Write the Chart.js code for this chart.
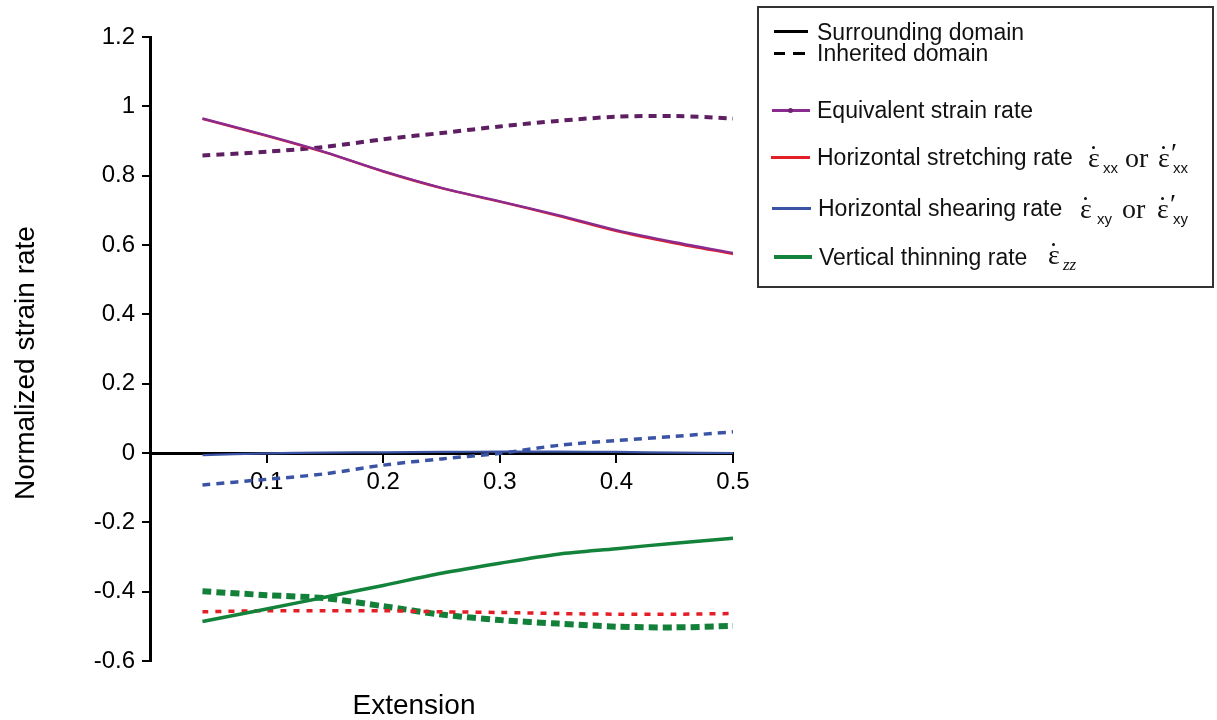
<!DOCTYPE html>
<html>
<head>
<meta charset="utf-8">
<script src="https://cdn.jsdelivr.net/npm/chart.js@4.4.1/dist/chart.umd.min.js"></script>
<style>
  body { margin: 0; background: #fff; }
  #wrap { position: relative; width: 1217px; height: 720px; font-family: "Liberation Sans", Arial, sans-serif; color: #111; }
  #chart { position: absolute; left: 0; top: 0; }
  .box { position: absolute; left: 757px; top: 6px; width: 453px; height: 278px; border: 2px solid #333; }
  .t { position: absolute; font-size: 23px; line-height: 26px; white-space: nowrap; }
  .sw { position: absolute; }
  .e { position: absolute; font-family: "Liberation Serif", "DejaVu Serif", serif; font-size: 28px; line-height: 30px; white-space: nowrap; }
  .d { position: absolute; width: 3px; height: 3px; border-radius: 50%; background: #111; }
  .s { position: absolute; font-size: 15px; line-height: 16px; white-space: nowrap; }
  .zz { font-family: "Liberation Serif", serif; font-style: italic; font-size: 17px; }
  .axt { position: absolute; font-size: 28px; line-height: 32px; color: #000; white-space: nowrap; text-align: center; }
</style>
</head>
<body>
<div id="wrap">
  <canvas id="chart" width="1217" height="720"></canvas>

  <div class="axt" style="left:214px;top:689px;width:400px">Extension</div>
  <div class="axt" style="left:-175px;top:347px;width:400px;transform:rotate(-90deg)">Normalized strain rate</div>

  <div class="box"></div>
  <!-- line style key -->
  <div class="sw" style="left:774px;top:30px;width:34px;height:3px;background:#000"></div>
  <div class="t" style="left:817px;top:19px">Surrounding domain</div>
  <div class="sw" style="left:774px;top:52px;width:11px;height:3px;background:#000"></div>
  <div class="sw" style="left:793px;top:52px;width:12px;height:3px;background:#000"></div>
  <div class="t" style="left:817px;top:40px">Inherited domain</div>
  <!-- colour key -->
  <div class="sw" style="left:772px;top:109px;width:38px;height:3px;background:#8a2b90"></div>
  <div class="sw" style="left:788px;top:108px;width:5px;height:5px;border-radius:50%;background:#6e2373"></div>
  <div class="t" style="left:817px;top:97px">Equivalent strain rate</div>

  <div class="sw" style="left:771px;top:156px;width:39px;height:3px;background:#e31e26"></div>
  <div class="t" style="left:817px;top:144px">Horizontal stretching rate</div>
  <div class="e" style="left:1088px;top:143px">ε</div>
  <div class="d" style="left:1092px;top:146px"></div>
  <div class="s" style="left:1103px;top:160px">xx</div>
  <div class="e" style="left:1125px;top:143px">or</div>
  <div class="e" style="left:1158px;top:143px">ε</div>
  <div class="d" style="left:1162px;top:146px"></div>
  <div class="e" style="left:1171px;top:138px">′</div>
  <div class="s" style="left:1173px;top:160px">xx</div>

  <div class="sw" style="left:772px;top:207px;width:39px;height:3px;background:#3a53a4"></div>
  <div class="t" style="left:818px;top:195px">Horizontal shearing rate</div>
  <div class="e" style="left:1080px;top:194px">ε</div>
  <div class="d" style="left:1084px;top:197px"></div>
  <div class="s" style="left:1097px;top:211px">xy</div>
  <div class="e" style="left:1122px;top:194px">or</div>
  <div class="e" style="left:1157px;top:194px">ε</div>
  <div class="d" style="left:1161px;top:197px"></div>
  <div class="e" style="left:1170px;top:189px">′</div>
  <div class="s" style="left:1173px;top:211px">xy</div>

  <div class="sw" style="left:774px;top:255px;width:38px;height:4px;background:#13823a"></div>
  <div class="t" style="left:819px;top:244px">Vertical thinning rate</div>
  <div class="e" style="left:1048px;top:240px">ε</div>
  <div class="d" style="left:1052px;top:243px"></div>
  <div class="s zz" style="left:1063px;top:257px">zz</div>
</div>

<script>
// values, one entry per extension step
const extension = [0.045, 0.1, 0.15, 0.2, 0.25, 0.3, 0.35, 0.4, 0.45, 0.5];

const equivSurround   = [0.965, 0.916, 0.868, 0.813, 0.765, 0.726, 0.686, 0.643, 0.608, 0.577];
const equivInherit    = [0.858, 0.869, 0.883, 0.905, 0.923, 0.942, 0.958, 0.970, 0.972, 0.965];
const stretchSurround = [0.964, 0.915, 0.867, 0.812, 0.764, 0.725, 0.684, 0.640, 0.605, 0.574];
const stretchInherit  = [-0.458, -0.455, -0.455, -0.455, -0.458, -0.460, -0.463, -0.465, -0.465, -0.463];
const shearSurround   = [-0.006, -0.001, 0.001, 0.002, 0.003, 0.004, 0.004, 0.003, 0.001, 0.0];
const shearInherit    = [-0.092, -0.076, -0.060, -0.035, -0.017, -0.001, 0.022, 0.036, 0.048, 0.061];
const thinSurround    = [-0.486, -0.450, -0.416, -0.382, -0.347, -0.318, -0.292, -0.276, -0.260, -0.246];
const thinInherit     = [-0.399, -0.410, -0.419, -0.442, -0.466, -0.482, -0.492, -0.501, -0.503, -0.499];

const yTicks = [-0.6, -0.4, -0.2, 0, 0.2, 0.4, 0.6, 0.8, 1, 1.2];

const toPoints = vals => vals.map((v, i) => ({ x: extension[i], y: v }));

function line(values, color, width, dash) {
  return {
    data: toPoints(values),
    borderColor: color,
    borderWidth: width,
    borderDash: dash || [],
    borderCapStyle: 'butt',
    pointRadius: 0,
    tension: 0.3,
    fill: false
  };
}

const tickFont = { family: '"Liberation Sans", Arial, sans-serif', size: 24 };

new Chart(document.getElementById('chart'), {
  type: 'line',
  data: {
    // first dataset is painted last, so purple sits on top of red
    datasets: [
      line(equivSurround, '#8a2b90', 2.4),
      line(stretchSurround, '#e31e26', 2.4),
      line(equivInherit, '#5e1f62', 4, [8, 6]),
      line(shearSurround, '#3a53a4', 2.2),
      line(shearInherit, '#3a53a4', 3.5, [8, 6]),
      line(thinSurround, '#13823a', 3.5),
      line(stretchInherit, '#e31e26', 3.5, [6, 7]),
      line(thinInherit, '#13803a', 6, [9, 5])
    ]
  },
  options: {
    responsive: false,
    animation: false,
    layout: { padding: { top: 37, right: 484, left: 0, bottom: 59 } },
    plugins: { legend: { display: false }, tooltip: { enabled: false } },
    scales: {
      x: {
        type: 'linear',
        position: { y: 0 },
        min: 0,
        max: 0.5,
        ticks: {
          stepSize: 0.1,
          color: '#000',
          font: tickFont,
          padding: 7,
          maxRotation: 0,
          callback: v => (Math.abs(v) < 1e-9 ? '' : v.toFixed(1))
        },
        grid: { drawOnChartArea: false, drawTicks: true, tickLength: 8, color: '#000', lineWidth: 2 },
        border: { display: true, color: '#000', width: 3 }
      },
      y: {
        type: 'linear',
        min: -0.6,
        max: 1.2,
        afterBuildTicks: s => { s.ticks = yTicks.map(v => ({ value: v })); },
        ticks: {
          color: '#000',
          font: tickFont,
          padding: 7,
          callback: v => String(Math.round(v * 10) / 10)
        },
        grid: { drawOnChartArea: false, drawTicks: true, tickLength: 8, color: '#000', lineWidth: 2 },
        border: { display: true, color: '#000', width: 3 },
        afterFit: s => { s.width = 150; }
      }
    }
  }
});
</script>
</body>
</html>
